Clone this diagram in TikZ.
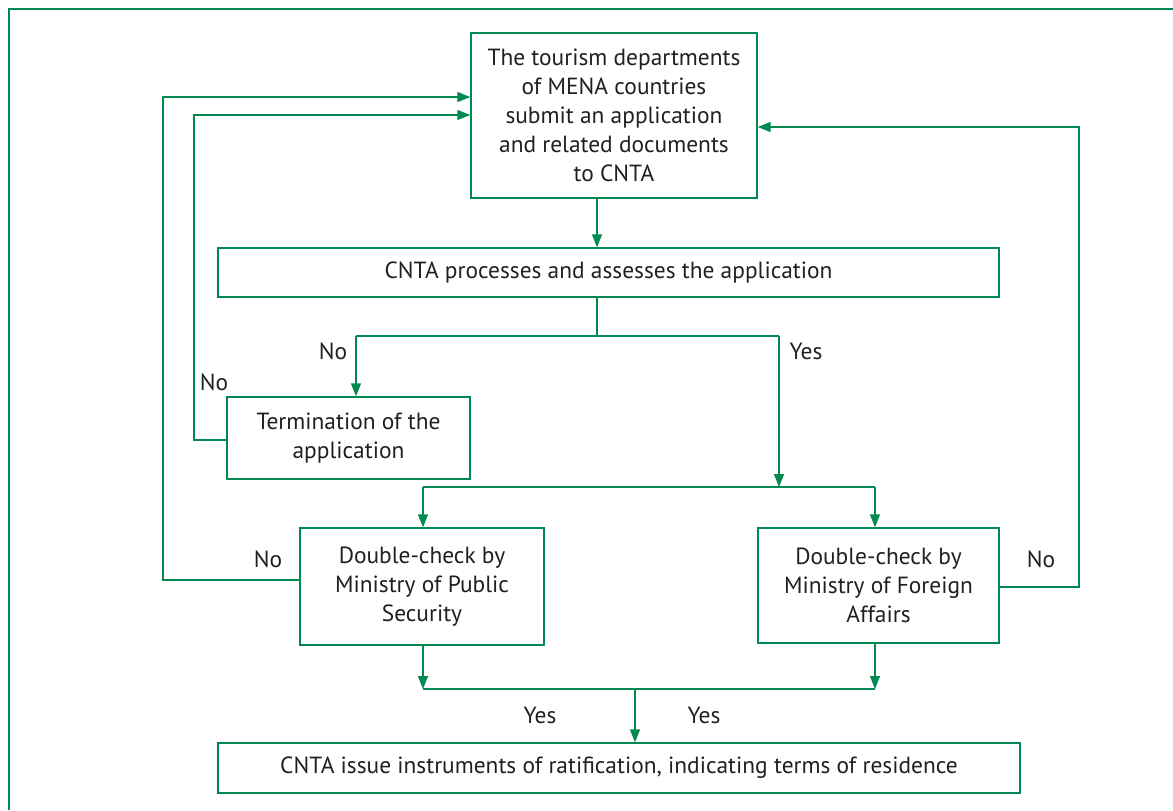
\documentclass[tikz,border=0pt]{standalone}
\usepackage{fontspec}
\setmainfont{PT Sans}
\usetikzlibrary{arrows.meta}
\definecolor{flowgreen}{RGB}{0,138,82}
\definecolor{inkgray}{RGB}{35,31,32}
\begin{document}
\begin{tikzpicture}[x=0.5pt, y=-0.5pt,
  box/.style={draw=flowgreen, line width=0.7pt, inner sep=0pt, align=center, text=inkgray,
    font=\fontsize{11.7}{14.5}\selectfont},
  lbl/.style={text=inkgray, font=\fontsize{11.7}{14.5}\selectfont},
  link/.style={draw=flowgreen, line width=0.7pt},
  arr/.style={link, -{Triangle[length=6.5pt, width=5pt]}}]
\useasboundingbox (0,0) rectangle (1173,810);

% Frame
\draw[flowgreen, line width=0.6pt] (9,810) -- (9,9) -- (1173,9);

% Boxes
\node[box, minimum width=143pt, minimum height=82.5pt] (submit) at (614,115.5)
  {The tourism departments\\of MENA countries\\submit an application\\and related documents\\to CNTA};
\node[box, minimum width=390.5pt, minimum height=24.5pt] (assess) at (608.5,272.5)
  {CNTA processes and assesses the application};
\node[box, minimum width=121.5pt, minimum height=41pt] (stop) at (348.5,438)
  {Termination of the\\application};
\node[box, minimum width=122pt, minimum height=58.5pt] (mps) at (422,586.5)
  {Double-check by\\Ministry of Public\\Security};
\node[box, minimum width=120.5pt, minimum height=57.5pt] (mfa) at (878.5,585.5)
  {Double-check by\\Ministry of Foreign\\Affairs};
\node[box, minimum width=401pt, minimum height=25pt] (issue) at (619,768)
  {CNTA issue instruments of ratification, indicating terms of residence};

% Junctions
\coordinate (fork) at (597,336);
\coordinate (noend) at (356,336);
\coordinate (yesend) at (779,336);
\coordinate (split) at (779,487);
\coordinate (splitl) at (423,487);
\coordinate (splitr) at (875,487);
\coordinate (joinl) at (423,689);
\coordinate (joinr) at (875,689);
\coordinate (join) at (635,689);

% Main flow
\draw[arr] (submit.south -| fork) -- (assess.north -| fork);
\draw[link] (assess.south -| fork) -- (fork);
\draw[link] (noend) -- (yesend);
\draw[arr] (noend) -- (stop.north -| noend);
\draw[arr] (yesend) -- (split);
\draw[link] (splitl) -- (splitr);
\draw[arr] (splitl) -- (mps.north -| splitl);
\draw[arr] (splitr) -- (mfa.north -| splitr);
\draw[arr] (mps.south -| joinl) -- (joinl);
\draw[arr] (mfa.south -| joinr) -- (joinr);
\draw[link] (joinl) -- (joinr);
\draw[arr] (join) -- (issue.north -| join);

% Return loops
\draw[arr] (stop.west |- 0,440) -| (194,115) -- (submit.west |- 0,115);
\draw[arr] (mps.west |- 0,580) -| (163,97) -- (submit.west |- 0,97);
\draw[arr] (mfa.east |- 0,587) -| (1079,127) -- (submit.east |- 0,127);

% Labels
\node[lbl] (lno) at (333,351) {No};
\node[lbl] (lyes) at (806,351) {Yes};
\node[lbl] (lnostop) at (214,382) {No};
\node[lbl] (lnomps) at (268,559) {No};
\node[lbl] (lnomfa) at (1041,559) {No};
\node[lbl] (lyesl) at (540,715) {Yes};
\node[lbl] (lyesr) at (704,715) {Yes};
\end{tikzpicture}
\end{document}
